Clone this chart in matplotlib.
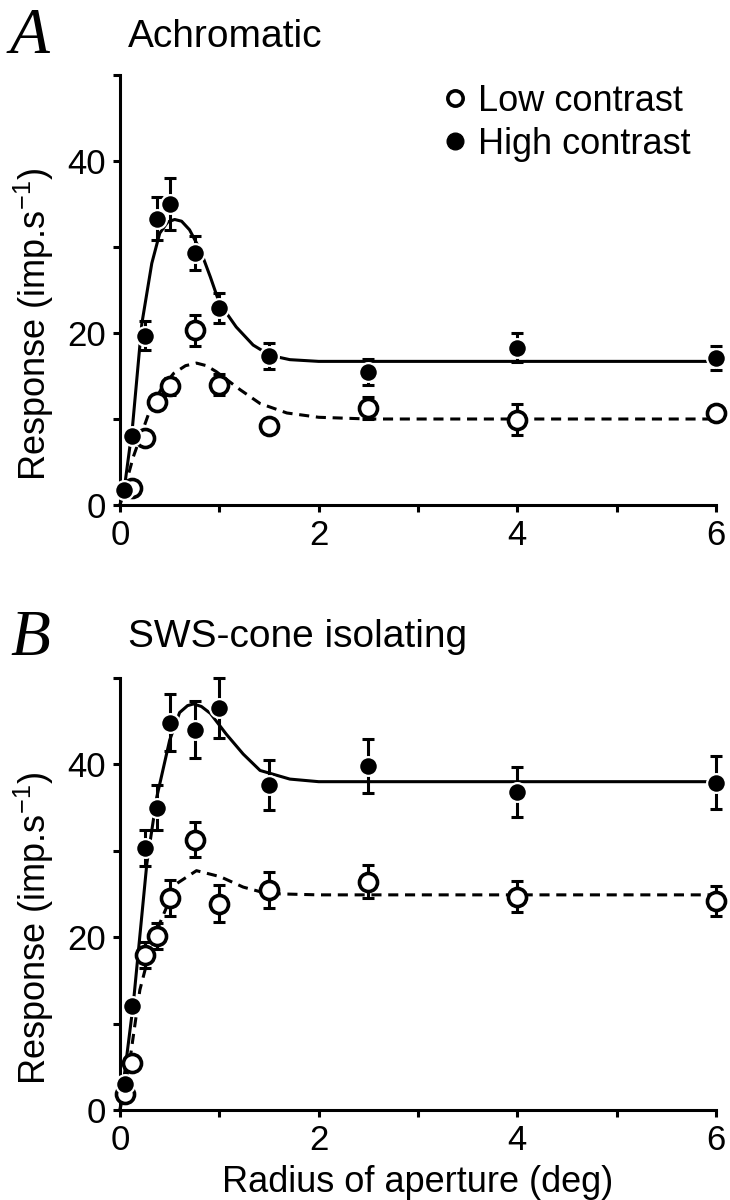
import matplotlib
matplotlib.use("Agg")
import matplotlib.pyplot as plt
from matplotlib.lines import Line2D

plt.rcParams["font.family"] = ["Liberation Sans", "DejaVu Sans"]
plt.rcParams["mathtext.fontset"] = "custom"
plt.rcParams["mathtext.rm"] = "Liberation Sans"
plt.rcParams["mathtext.default"] = "regular"

# Panel A - achromatic, measured responses (imp/s) and SEM
xa_hi = [0.04, 0.125, 0.25, 0.375, 0.5, 0.75, 1.0, 1.5, 2.5, 4.0, 6.0]
ya_hi = [1.7, 8.0, 19.7, 33.3, 35.0, 29.3, 22.9, 17.3, 15.5, 18.3, 17.1]
ea_hi = [0.3, 0.6, 1.7, 2.5, 3.0, 2.0, 1.7, 1.5, 1.5, 1.7, 1.4]

xa_lo = [0.125, 0.25, 0.375, 0.5, 0.75, 1.0, 1.5, 2.5, 4.0, 6.0]
ya_lo = [2.0, 7.8, 12.0, 13.8, 20.3, 14.0, 9.2, 11.3, 9.9, 10.7]
ea_lo = [0.5, 0.8, 0.8, 1.0, 1.8, 1.2, 0.5, 1.3, 1.8, 0.6]

# Panel A - fitted curves
fa_hi_x = [0.0, 0.05, 0.125, 0.22, 0.32, 0.40, 0.48, 0.55, 0.62, 0.70, 0.81, 0.91, 1.0, 1.17, 1.34, 1.51, 1.71, 2.0, 3.0, 6.0]
fa_hi_y = [0.0, 2.5, 9.0, 21.1, 28.1, 31.6, 32.9, 33.2, 33.0, 32.0, 29.6, 26.5, 23.5, 20.7, 18.6, 17.4, 16.9, 16.7, 16.7, 16.7]
fa_lo_x = [0.0, 0.134, 0.30, 0.42, 0.54, 0.66, 0.77, 0.87, 0.97, 1.21, 1.41, 1.68, 2.0, 2.5, 6.0]
fa_lo_y = [0.0, 5.6, 11.0, 13.6, 15.3, 16.2, 16.5, 16.2, 15.5, 13.4, 11.8, 10.7, 10.2, 10.0, 10.0]

# Panel B - SWS-cone isolating
xb_hi = [0.05, 0.125, 0.25, 0.375, 0.5, 0.75, 1.0, 1.5, 2.5, 4.0, 6.0]
yb_hi = [3.0, 12.0, 30.3, 35.0, 44.8, 44.0, 46.5, 37.6, 39.8, 36.8, 37.9]
eb_hi = [0.5, 0.8, 2.1, 2.6, 3.3, 3.3, 3.5, 2.9, 3.1, 2.9, 3.1]

xb_lo = [0.05, 0.125, 0.25, 0.375, 0.5, 0.75, 1.0, 1.5, 2.5, 4.0, 6.0]
yb_lo = [1.9, 5.4, 17.9, 20.1, 24.5, 31.3, 23.9, 25.5, 26.4, 24.7, 24.2]
eb_lo = [0.4, 0.6, 1.5, 1.5, 2.1, 2.0, 2.1, 2.1, 1.9, 1.8, 1.7]

fb_hi_x = [0.0, 0.134, 0.27, 0.37, 0.50, 0.60, 0.68, 0.74, 0.82, 0.91, 1.07, 1.24, 1.41, 1.71, 2.0, 6.0]
fb_hi_y = [0.0, 12.3, 28.5, 36.2, 42.8, 46.0, 46.8, 47.0, 46.7, 45.9, 43.5, 41.2, 39.3, 38.3, 38.0, 38.0]
fb_lo_x = [0.0, 0.10, 0.20, 0.27, 0.40, 0.57, 0.77, 1.01, 1.24, 1.48, 2.0, 6.0]
fb_lo_y = [0.0, 5.8, 13.9, 17.0, 21.6, 26.2, 27.7, 27.0, 25.8, 25.05, 24.9, 24.9]

LW = 2.2
FS = 25

fig = plt.figure(figsize=(7.3, 12), dpi=100)
ax_a = fig.add_axes([120 / 730, 1 - 505 / 1200, 596 / 730, 430 / 1200])
ax_b = fig.add_axes([120 / 730, 1 - 1110 / 1200, 596 / 730, 432 / 1200])


def draw_panel(ax, fit_hi, fit_lo, hi, lo, label_y):
    ax.plot(fit_hi[0], fit_hi[1], color="black", lw=LW, zorder=2, clip_on=False,
            solid_joinstyle="round")
    ax.plot(fit_lo[0], fit_lo[1], color="black", lw=LW, dashes=(3.3, 2.2), zorder=2, clip_on=False)
    for (x, y, e), filled in ((lo, False), (hi, True)):
        eb = ax.errorbar(x, y, yerr=e, fmt="none", ecolor="black", elinewidth=LW,
                         capsize=4.5, capthick=LW, zorder=3)
        for art in eb.lines[1] + eb.lines[2]:
            art.set_clip_on(False)
        if filled:
            ax.plot(x, y, "o", ms=13.5, mfc="black", mec="white", mew=1.6,
                    zorder=4, clip_on=False)
        else:
            ax.plot(x, y, "o", ms=13, mfc="white", mec="black", mew=2.6,
                    zorder=4, clip_on=False)
    ax.set_xlim(0, 6)
    ax.set_ylim(0, 50)
    ax.spines["top"].set_visible(False)
    ax.spines["right"].set_visible(False)
    ax.spines["left"].set_linewidth(LW)
    ax.spines["bottom"].set_linewidth(LW)
    ax.set_xticks(range(7))
    ax.set_xticklabels(["0", "", "2", "", "4", "", "6"])
    ax.set_yticks(range(0, 51, 10))
    ax.set_yticklabels(["0", "", "20", "", "40", ""])
    ax.tick_params(width=LW, length=5, labelsize=FS, pad=5)
    ax.set_ylabel("Response (imp.s$^{-1}$)", fontsize=26)
    ax.yaxis.set_label_coords(-0.108, label_y)


draw_panel(ax_a, (fa_hi_x, fa_hi_y), (fa_lo_x, fa_lo_y), (xa_hi, ya_hi, ea_hi), (xa_lo, ya_lo, ea_lo), 0.42)
draw_panel(ax_b, (fb_hi_x, fb_hi_y), (fb_lo_x, fb_lo_y), (xb_hi, yb_hi, eb_hi), (xb_lo, yb_lo, eb_lo), 0.42)
ax_b.set_xlabel("Radius of aperture (deg)", fontsize=26)
ax_b.xaxis.set_label_coords(0.5, -0.128)

handles = [
    Line2D([], [], ls="none", marker="o", ms=11, mfc="white", mec="black", mew=2.6),
    Line2D([], [], ls="none", marker="o", ms=12, mfc="black", mec="black"),
]
ax_a.legend(handles, ["Low contrast", "High contrast"], loc="upper left",
            bbox_to_anchor=(0.542, 0.979), frameon=False, fontsize=26,
            handlelength=0.68, handletextpad=0.3, labelspacing=0.22, borderpad=0,
            borderaxespad=0)

fig.text(10 / 730, 1 - 53 / 1200, "A", family="Liberation Serif", style="italic", fontsize=47)
fig.text(128 / 730, 1 - 47 / 1200, "Achromatic", fontsize=28)
fig.text(10 / 730, 1 - 655 / 1200, "B", family="Liberation Serif", style="italic", fontsize=47)
fig.text(128 / 730, 1 - 647 / 1200, "SWS-cone isolating", fontsize=28)

fig.savefig("out.png", dpi=100)
